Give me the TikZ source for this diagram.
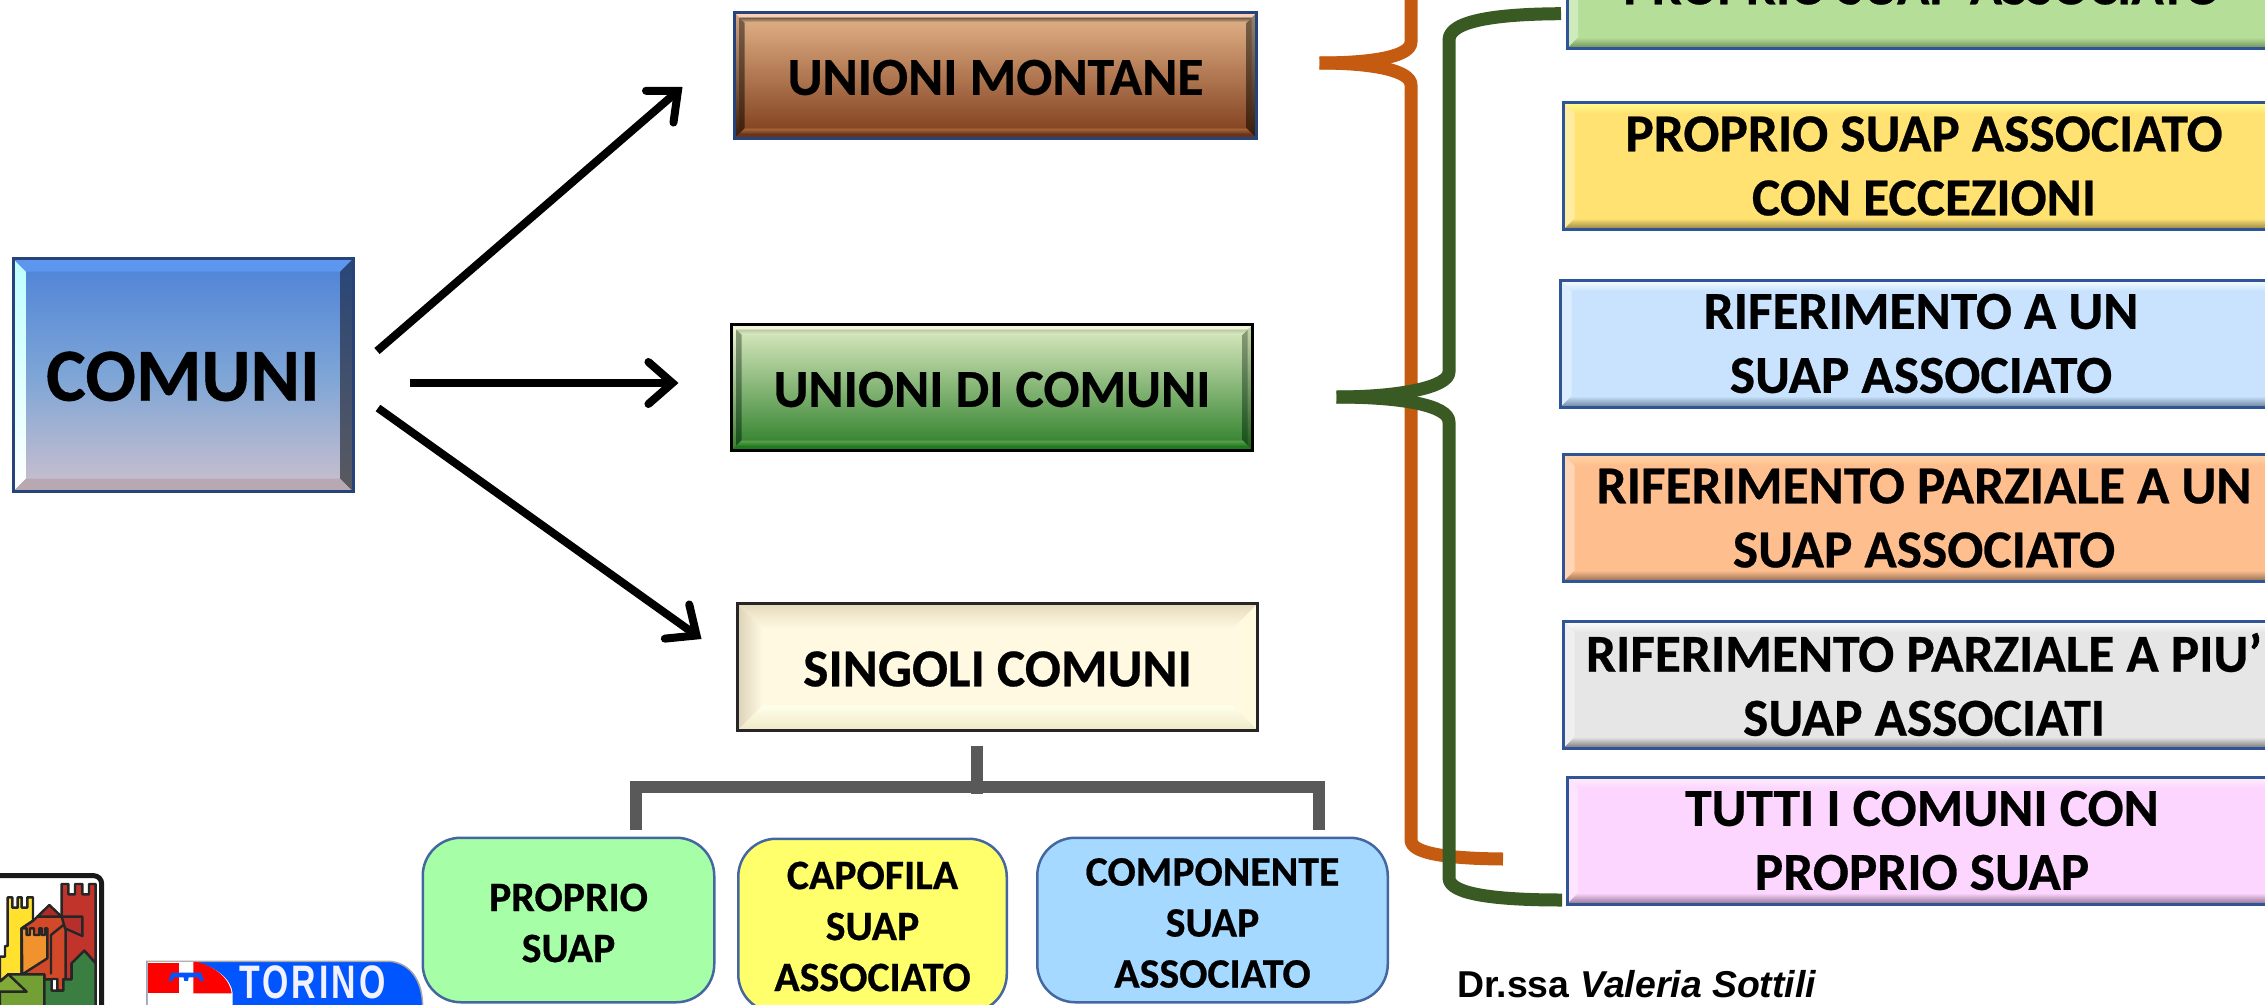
\documentclass[tikz,border=0pt]{standalone}
\usepackage{fontspec}
\usetikzlibrary{calc,arrows.meta}
\setmainfont{Carlito}[BoldFont={Carlito Bold},BoldFeatures={FakeBold=0.5}]
\newfontfamily\drfont{Liberation Sans}
\newfontfamily\torfont[LetterSpace=9]{Liberation Sans}
\newcommand\hexc[2]{\definecolor{#1}{HTML}{#2}}
\hexc{frameblue}{2F5597}\hexc{bracegreen}{3A5A24}\hexc{braceorange}{C55A11}\hexc{treegray}{595959}
\hexc{cgreen}{B5DE98}\hexc{cyellow}{FFE271}\hexc{cblue}{C9E3FF}\hexc{corange}{FFBE8E}\hexc{cgray}{E6E6E6}\hexc{cpink}{FCD6FF}
\hexc{lgreen}{D9F5C0}\hexc{lyellow}{FFFF90}\hexc{lblue}{F8FFFF}\hexc{lorange}{FFD6A8}\hexc{lgray}{FFFFFF}\hexc{lpink}{FFEFFF}
\hexc{dgreen}{6E8B55}\hexc{dyellow}{8F7F45}\hexc{dblue}{6F8299}\hexc{dorange}{8C6B50}\hexc{dgray}{777777}\hexc{dpink}{93708F}
\hexc{ca1}{4E82D8}\hexc{ca2}{7DA5D6}\hexc{ca3}{CCC0CE}\hexc{caL}{BEFFFF}\hexc{caR1}{284678}\hexc{caR2}{5A5A60}\hexc{caT}{5C96EE}\hexc{caB}{B8A8B2}
\hexc{mo1}{E4B48A}\hexc{mo2}{C88050}\hexc{mo3}{7D3C1A}\hexc{moL1}{D7A582}\hexc{moL2}{3C1C0A}\hexc{moR1}{968273}\hexc{moR2}{321A0C}\hexc{moT}{FCCDB7}\hexc{moB}{6B3418}\hexc{moI1}{785F48}\hexc{moI2}{40200C}\hexc{moIT}{63543E}\hexc{moIB}{A9683C}\hexc{moIb}{703A1A}
\hexc{di1}{DEECC4}\hexc{di2}{A0C67A}\hexc{di3}{2C7E28}\hexc{diL1}{F5F8DC}\hexc{diL2}{3E7C30}\hexc{diR1}{C8D8A8}\hexc{diR2}{1F5A18}\hexc{diT}{F2F6D8}\hexc{diB}{1F7A1C}\hexc{diI1}{8A9A78}\hexc{diI2}{14501A}\hexc{diIT}{B8C8A4}\hexc{diIB}{5BA050}\hexc{diIb}{2A8028}
\hexc{si}{FFF9E2}\hexc{siL}{DDD2B8}\hexc{siR}{FFFBDC}\hexc{siT}{E6D9BC}\hexc{siB1}{FFFFEA}\hexc{siB2}{EFE8C8}
\hexc{bg}{A6FFA6}\hexc{by}{FFFF6B}\hexc{bb}{A6D9FF}
\hexc{loR}{C0342C}\hexc{loY}{FFE12E}\hexc{loO}{D2492A}\hexc{loT}{F0922E}\hexc{loRo}{B02A25}\hexc{loS}{B5302C}\hexc{loG}{72A035}\hexc{loG2}{82AA37}\hexc{loD}{3B7E42}\hexc{toB}{0055FF}
\newcommand\bevelquad[6]{%
  \path ($(path picture bounding box.north west)+(#1pt,-#1pt)$) coordinate (o1)
        ($(path picture bounding box.north east)+(-#1pt,-#1pt)$) coordinate (o2)
        ($(path picture bounding box.south east)+(-#1pt,#1pt)$) coordinate (o3)
        ($(path picture bounding box.south west)+(#1pt,#1pt)$) coordinate (o4)
        ($(o1)+(#2pt,-#2pt)$) coordinate (n1)
        ($(o2)+(-#2pt,-#2pt)$) coordinate (n2)
        ($(o3)+(-#2pt,#2pt)$) coordinate (n3)
        ($(o4)+(#2pt,#2pt)$) coordinate (n4);
  \path[#3] (o1)--(n1)--(n4)--(o4)--cycle;
  \path[#4] (o2)--(n2)--(n3)--(o3)--cycle;
  \path[#5] (o1)--(o2)--(n2)--(n1)--cycle;
  \path[#6] (o4)--(o3)--(n3)--(n4)--cycle;
}
\tikzset{
  bx/.style={rectangle,inner sep=0pt,outer sep=0pt,align=center,line width=3pt,
    font=\fontsize{53.4}{64}\selectfont\bfseries,execute at begin node={\rule{0pt}{39pt}}},
  rbox/.style n args={3}{bx,draw=frameblue,fill=#1,minimum width=721pt,minimum height=127pt,
    path picture={\bevelquad{0}{11}{fill=#1!65!white}{fill=#3}{top color=#2,bottom color=#1}{top color=#1,bottom color=#3}}},
  sbox/.style={rectangle,rounded corners=38pt,draw=frameblue!90!white,line width=2.5pt},
  stext/.style={align=center,inner sep=0pt,font=\fontsize{41.8}{51}\selectfont\bfseries},
  bigarrow/.style={line width=8pt,-{Straight Barb[length=24pt,width=42pt,line cap=round]}},
  brace/.style={line width=13pt,line join=round},
  tree/.style={draw=treegray,line width=12pt,line join=miter},
  logoline/.style={draw=black!85,line width=2.4pt,line join=round}
}
\begin{document}
\begin{tikzpicture}[x=1pt,y=-1pt]
\useasboundingbox (0,0) rectangle (2265,1004);
\clip (0,0) rectangle (2265,1004);

% left column
\node[bx,draw=frameblue!80!black,minimum width=340pt,minimum height=233pt,
  top color=ca1,bottom color=ca3,middle color=ca2,
  font=\fontsize{75}{80}\selectfont\bfseries,execute at begin node={\rule{0pt}{52pt}},
  path picture={\bevelquad{0}{13}{top color=caL,bottom color=white}
    {top color=caR1,bottom color=caR2}{fill=caT}{fill=caB}}]
  (comuni) at (183,375) {COMUNI};

\node[bx,draw=frameblue!80!black,minimum width=522pt,minimum height=126pt,
  top color=mo1,middle color=mo2,bottom color=mo3,
  path picture={\bevelquad{0}{5}{top color=moL1,bottom color=moL2}{top color=moR1,bottom color=moR2}{fill=moT}{fill=moB}
     \bevelquad{5}{5}{top color=moI1,bottom color=moI2}{top color=moI1,bottom color=moI2}
     {top color=moIT,bottom color=mo1}{top color=moIB,bottom color=moIb}}]
  (montane) at (995.5,75.5) {UNIONI MONTANE};

\node[bx,draw=black,minimum width=521pt,minimum height=126pt,
  top color=di1,middle color=di2,bottom color=di3,
  path picture={\bevelquad{0}{5}{top color=diL1,bottom color=diL2}{top color=diR1,bottom color=diR2}{fill=diT}{fill=diB}
     \bevelquad{5}{5}{top color=diI1,bottom color=diI2}{top color=diI1,bottom color=diI2}
     {top color=diIT,bottom color=di1}{top color=diIB,bottom color=diIb}}]
  (dicomuni) at (992,387.5) {UNIONI DI COMUNI};

\node[bx,draw=black!85,minimum width=520pt,minimum height=127pt,fill=si,
  path picture={\bevelquad{0}{25}{left color=siL,right color=si}{left color=si,right color=siR}
     {top color=siT,bottom color=si}{top color=siB1,bottom color=siB2}}]
  (singoli) at (997.5,667) {SINGOLI COMUNI};

% right column
\node[rbox={cgreen}{lgreen}{dgreen},minimum width=710pt] (r1) at (1922,-15) {PROPRIO SUAP ASSOCIATO};
\node[rbox={cyellow}{lyellow}{dyellow}] (r2) at (1924,166) {PROPRIO SUAP ASSOCIATO\\CON ECCEZIONI};
\node[rbox={cblue}{lblue}{dblue}] (r3) at (1921,343.5) {RIFERIMENTO A UN\\SUAP ASSOCIATO};
\node[rbox={corange}{lorange}{dorange}] (r4) at (1924,518) {RIFERIMENTO PARZIALE A UN\\SUAP ASSOCIATO};
\node[rbox={cgray}{lgray}{dgray}] (r5) at (1924,684.5) {RIFERIMENTO PARZIALE A PIU’\\SUAP ASSOCIATI};
\node[rbox={cpink}{lpink}{dpink},minimum width=710pt] (r6) at (1922,840.5) {TUTTI I COMUNI CON\\PROPRIO SUAP};

% bottom boxes
\node[sbox,fill=bg,minimum width=291.5pt,minimum height=164.5pt] (bp) at (568.5,920) {};
\node[sbox,fill=by,minimum width=268.5pt,minimum height=173.5pt] (bc) at (872.5,925.5) {};
\node[sbox,fill=bb,minimum width=350.5pt,minimum height=164.5pt] (bk) at (1212.5,920) {};
\node[stext] (tp) at ($(bp.center)+(0,3)$) {PROPRIO\\SUAP};
\node[stext] (tc) at ($(bc.center)+(0,1)$) {CAPOFILA\\SUAP\\ASSOCIATO};
\node[stext] (tk) at ($(bk.center)+(0,3)$) {COMPONENTE\\SUAP\\ASSOCIATO};

% arrows from COMUNI
\draw[bigarrow] ($(comuni.east)+(24,-24)$) -- ($(montane.west)+(-52,11.5)$);
\draw[bigarrow] ($(comuni.east)+(57,8)$) -- ($(dicomuni.west)+(-53,-4.5)$);
\draw[bigarrow] ($(comuni.east)+(25,33)$) -- ($(singoli.west)+(-36,-28)$);

% tree under SINGOLI COMUNI
\coordinate (stem) at ($(singoli.south)+(-20.5,15)$);
\coordinate (hub) at ($(singoli.south)+(-20.5,56)$);
\coordinate (dl) at ($(bp.north)+(67,-7)$);
\coordinate (dr) at ($(bk.north)+(106.5,-7)$);
\draw[tree] (dl) -- (dl|-hub) -- (dr|-hub) -- (dr);
\draw[tree] (stem) -- ($(hub)+(0,7)$);

% braces
\coordinate (ot) at ($(montane.east)+(63,-12.5)$);
\coordinate (ob) at ($(r6.west)+(-64,18.5)$);
\coordinate (gt) at ($(dicomuni.east)+(84,9.5)$);
\coordinate (ga) at ($(r1.west)+(-6,28.7)$);
\coordinate (gb) at ($(r6.west)+(-5,59.5)$);
\draw[brace,draw=braceorange] (1411,-20) -- (1411,42) .. controls (1411,56) and (1375,63) .. (ot);
\draw[brace,draw=braceorange] (ot) .. controls (1375,63) and (1411,71) .. (1411,85) -- (1411,840)
   .. controls (1411,854) and (1450,858.5) .. (ob);
\draw[brace,draw=bracegreen] (ga) .. controls (1500,14) and (1449,20) .. (1449,40) -- (1449,372)
   .. controls (1449,387) and (1400,397) .. (gt);
\draw[brace,draw=bracegreen] (gt) .. controls (1400,397) and (1449,405) .. (1449,422) -- (1449,878)
   .. controls (1449,895) and (1500,900) .. (gb);

% signature
\node[anchor=base west,inner sep=0pt,font=\drfont\fontsize{37.4}{40}\selectfont\bfseries] (sig) at (1457,997)
  {Dr.ssa\hspace{11pt}\itshape Valeria Sottili};

% Logo: castles
\begin{scope}[shift={(0,860)},x=0.3333pt,y=-0.3333pt]
  \fill[white] (-10,45) rectangle (305,440);
  \path[logoline,fill=loR] (185,72)--(205,72)--(205,103)--(225,103)--(225,72)--(247,72)--(247,103)--(267,103)--(267,72)--(287,72)--(287,310)--(253,272)--(215,310)--(215,358)--(197,358)--(197,195)--(185,170)--cycle;
  \path[logoline,fill=loY] (23,112)--(37,112)--(37,143)--(53,143)--(53,112)--(65,112)--(65,143)--(82,143)--(82,112)--(99,112)--(99,182)--(65,205)--(65,343)--(25,343)--(0,365)--(0,290)--(15,290)--(15,258)--(23,258)--cycle;
  \path[logoline,fill=loO] (100,182)--(112,170)--(185,170)--(197,195)--(197,357)--(190,357)--(190,392)--(172,392)--(172,357)--(155,357)--(155,392)--(133,392)--(133,343)--(65,343)--(65,205)--cycle;
  \path[logoline,fill=loT] (65,205)--(80,205)--(80,225)--(90,225)--(90,205)--(102,205)--(102,225)--(118,225)--(118,205)--(125,205)--(125,225)--(135,225)--(135,205)--(142,205)--(142,295)--(67,343)--cycle;
  \path[logoline,fill=loRo] (112,170)--(148,135)--(185,170)--cycle;
  \path[logoline,fill=loS] (185,170)--(247,170)--(247,228)--(195,205)--cycle;
  \draw[logoline] (153,343)--(153,225)--(190,195);
  \path[logoline,fill=loG] (0,365)--(25,343)--(133,343)--(133,440)--(0,440)--cycle;
  \path[logoline,fill=loG2] (0,395)--(80,395)--(25,343)--(0,365);
  \path[logoline,fill=loD] (133,440)--(133,358)--(155,358)--(155,392)--(190,392)--(190,358)--(215,358)--(215,310)--(253,272)--(287,310)--(287,440)--cycle;
  \draw[draw=black!90,line width=5pt,rounded corners=8pt] (-20,47) -- (305,47) -- (305,460);
\end{scope}

% Logo: Torino
\begin{scope}[shift={(0,780)},x=0.3333pt,y=-0.3333pt]
  \path[draw=black!35,line width=1.5pt,fill=toB] (441,700) -- (441,544) -- (1170,544) .. controls (1230,550) and (1268,600) .. (1268,680) -- (1268,700) -- cycle;
  \fill[white] (585,546) .. controls (650,560) and (695,600) .. (698,640) -- (698,700) -- (443,700) -- (443,546) -- cycle;
  \fill[red] (445,548) rectangle (538,640);
  \fill[red] (580,546) -- (590,546) .. controls (650,560) and (690,600) .. (695,640) -- (580,640) -- cycle;
  \fill[toB] (515,578) -- (603,578) -- (612,603) -- (600,603) -- (596,592) -- (566,592) -- (564,603) -- (553,603) -- (551,592) -- (522,592) -- (518,603) -- (505,603) -- cycle;
  \node[anchor=base west,inner sep=0pt,text=white!95!blue,font=\torfont\bfseries\fontsize{47}{50}\selectfont] (torino) at (718,655) {\scalebox{0.72}[1]{TORINO}};
\end{scope}
\end{tikzpicture}
\end{document}
